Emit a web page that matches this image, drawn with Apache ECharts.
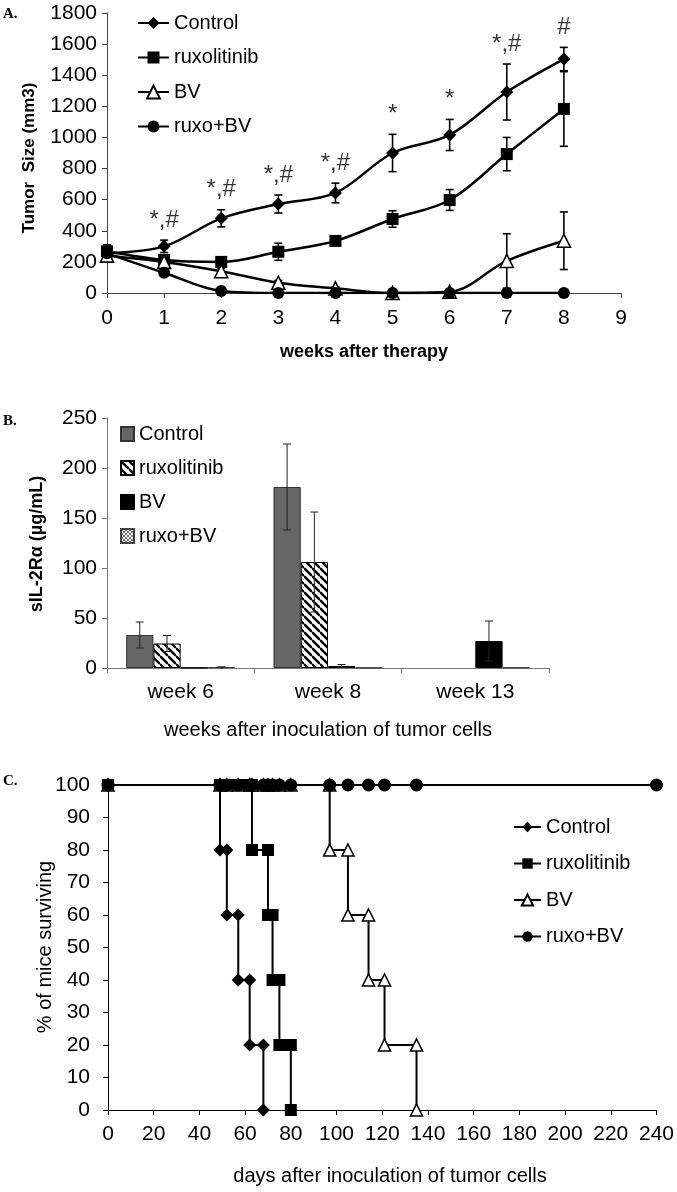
<!DOCTYPE html>
<html><head><meta charset="utf-8">
<script src="https://cdn.jsdelivr.net/npm/echarts@6/dist/echarts.min.js"></script>
<style>html,body{margin:0;padding:0;background:#fff}#c{width:677px;height:1192px}</style>
</head><body><div id="c"></div>
<script>
// ---------- Panel A: tumor size ----------
const weeksA = [0,1,2,3,4,5,6,7,8];
const tumorControl    = [255,300,480,572,643,900,1016,1292,1504];
const tumorControlErr = [55,40,55,58,63,120,100,180,75];
const tumorRuxo       = [268,212,200,265,335,476,598,893,1183];
const tumorRuxoErr    = [30,25,20,55,15,53,67,107,240];
const tumorBV         = [240,200,140,66,30,0,8,206,336];
const tumorBVErr      = [20,20,20,15,10,5,15,175,185];
const tumorRuxoBV     = [255,130,13,0,0,0,0,0,0];
const tumorRuxoBVErr  = [20,15,5,0,0,0,0,0,0];
const sigWeeks  = [1,2,3,4,5,6,7,8];
const sigLabels = ['*,#','*,#','*,#','*,#','*','*','*,#','#'];

// ---------- Panel B: sIL-2Ra ----------
const weeksB = ['week 6','week 8','week 13'];
const il2Control    = [33,181,null];
const il2ControlErr = [13,43,null];
const il2Ruxo       = [24.5,106,null];
const il2RuxoErr    = [8,50,null];
const il2BV         = [0.3,2,27];
const il2BVErr      = [0,1.5,20];
const il2RuxoBV     = [0.8,0.4,0.5];
const il2RuxoBVErr  = [0.4,0,0];

// ---------- Panel C: survival ----------
const survControl = [[0,100],[49,100],[49,80],[52,80],[52,60],[57,60],[57,40],[62,40],[62,20],[68,20],[68,0]];
const survRuxo = [[0,100],[49,100],[52,100],[57,100],[62,100],[63,100],[63,80],[70,80],[70,60],[72,60],[72,40],[75,40],[75,20],[80,20],[80,0]];
const survBV = [[0,100],[49,100],[52,100],[57,100],[62,100],[63,100],[68,100],[70,100],[72,100],[75,100],[80,100],[97,100],[97,80],[105,80],[105,60],[114,60],[114,40],[121,40],[121,20],[135,20],[135,0]];
const survRuxoBV = [[0,100],[49,100],[52,100],[57,100],[62,100],[63,100],[68,100],[70,100],[72,100],[75,100],[80,100],[97,100],[105,100],[114,100],[121,100],[135,100],[240,100]];

const FONT = 'Liberation Sans, Arial, sans-serif';

function stripePattern(){
  const s = 8, c = document.createElement('canvas'); c.width = s; c.height = s;
  const g = c.getContext('2d');
  g.fillStyle = '#fff'; g.fillRect(0,0,s,s);
  g.strokeStyle = '#000'; g.lineWidth = 2.4; g.beginPath();
  for (let k=-1;k<=1;k++){ g.moveTo(0,k*s); g.lineTo(s,s+k*s); }
  g.stroke();
  return {image:c, repeat:'repeat'};
}
function checkerPattern(){
  const s = 4, c = document.createElement('canvas'); c.width = s; c.height = s;
  const g = c.getContext('2d');
  g.fillStyle = '#fff'; g.fillRect(0,0,s,s);
  g.fillStyle = '#777'; g.fillRect(0,0,2,2); g.fillRect(2,2,2,2);
  return {image:c, repeat:'repeat'};
}

function errDataA(v,e){ return weeksA.map((w,i)=>[w, v[i]-e[i], v[i]+e[i], e[i]]); }
function errSeriesA(name,v,e){
  return {type:'custom', name:'A:'+name+'err', xAxisIndex:0, yAxisIndex:0, z:1, silent:true,
    data: errDataA(v,e),
    renderItem:(p,api)=>{
      if (api.value(3) <= 0) return null;
      const x = api.value(0);
      const lo = Math.max(0, api.value(1)), hi = api.value(2);
      const a = api.coord([x,lo]), b = api.coord([x,hi]);
      const st = {stroke:'#000', lineWidth:1.6};
      const c = 4;
      return {type:'group', children:[
        {type:'line', shape:{x1:a[0],y1:a[1],x2:b[0],y2:b[1]}, style:st},
        {type:'line', shape:{x1:a[0]-c,y1:a[1],x2:a[0]+c,y2:a[1]}, style:st},
        {type:'line', shape:{x1:b[0]-c,y1:b[1],x2:b[0]+c,y2:b[1]}, style:st}
      ]};
    }};
}
function lineA(name,v,symbol,size,fill){
  return {type:'line', name:'A:'+name, xAxisIndex:0, yAxisIndex:0, z:3,
    data: weeksA.map((w,i)=>[w,v[i]]), smooth:0.35, symbol, symbolSize:size, showAllSymbol:true,
    lineStyle:{color:'#000', width:2.5}, itemStyle:{color:fill, borderColor:'#000', borderWidth: fill==='#fff'?1.6:0}};
}

const GAP = 0.26;
function errSeriesB(k,v,e){
  return {type:'custom', name:'B:err'+k, xAxisIndex:1, yAxisIndex:1, z:5, silent:true,
    data: weeksB.map((w,i)=>[i, v[i]==null?NaN:v[i]-e[i], v[i]==null?NaN:v[i]+e[i], e[i]==null?0:e[i]]),
    renderItem:(p,api)=>{
      if (!(api.value(3) > 0)) return null;
      const bw = api.size([1,0])[0];
      const w = bw*(1-GAP)/4;
      const off = (k-1.5)*w;
      const a = api.coord([api.value(0), Math.max(0,api.value(1))]);
      const b = api.coord([api.value(0), api.value(2)]);
      const x = a[0]+off;
      const st = {stroke:'#222', lineWidth:1};
      const c = 4;
      return {type:'group', children:[
        {type:'line', shape:{x1:x,y1:a[1],x2:x,y2:b[1]}, style:st},
        {type:'line', shape:{x1:x-c,y1:a[1],x2:x+c,y2:a[1]}, style:st},
        {type:'line', shape:{x1:x-c,y1:b[1],x2:x+c,y2:b[1]}, style:st}
      ]};
    }};
}
function barB(name,v,color,border){
  return {type:'bar', name:'B:'+name, xAxisIndex:1, yAxisIndex:1, z:2, data:v,
    barCategoryGap:(GAP*100)+'%', barGap:'0%',
    itemStyle:{color, borderColor:border, borderWidth:1}};
}
function lineC(name,d,symbol,size,fill){
  return {type:'line', name:'C:'+name, xAxisIndex:2, yAxisIndex:2, data:d, symbol, symbolSize:size,
    showAllSymbol:true, lineStyle:{color:'#000', width:2},
    itemStyle:{color:fill, borderColor:'#000', borderWidth: fill==='#fff'?1.6:0}};
}

const TICKFS = 21;
const axisCommon = (color, margin)=>({
  axisLine:{show:true, lineStyle:{color, width:1}},
  axisTick:{show:true, length:5, lineStyle:{color, width:1}},
  splitLine:{show:false},
  axisLabel:{color:'#000', fontSize:TICKFS, fontFamily:FONT, margin, formatter:v=>String(v)}
});

function leg(name, left, cy, iw, ih, icon){
  const o = {data:[name], left, top: cy-10, orient:'vertical', padding:0, itemGap:0,
    itemWidth:iw, itemHeight:ih, selectedMode:false, formatter:n=>n.slice(2),
    textStyle:{fontSize:20, fontFamily:FONT, color:'#000'}};
  if (icon) o.icon = icon;
  return o;
}

const stripe = stripePattern(), checker = checkerPattern();

const option = {
  animation:false,
  backgroundColor:'#fff',
  grid:[
    {left:107, top:13, width:514, height:280},
    {left:107, top:418, width:442, height:250},
    {left:108, top:785, width:550, height:325}
  ],
  xAxis:[
    Object.assign({gridIndex:0, type:'value', min:0, max:9, interval:1}, axisCommon('#444',15)),
    Object.assign({gridIndex:1, type:'category', data:weeksB}, axisCommon('#777',14)),
    Object.assign({gridIndex:2, type:'value', min:0, max:240, interval:20}, axisCommon('#000',14))
  ],
  yAxis:[
    Object.assign({gridIndex:0, type:'value', min:0, max:1800, interval:200}, axisCommon('#444',10)),
    Object.assign({gridIndex:1, type:'value', min:0, max:250, interval:50}, axisCommon('#777',10)),
    Object.assign({gridIndex:2, type:'value', min:0, max:100, interval:10}, axisCommon('#000',18))
  ],
  legend:[
    leg('A:Control',137,23,31,15), leg('A:ruxolitinib',137,57.5,31,15),
    leg('A:BV',137,92,31,16), leg('A:ruxo+BV',137,126.5,31,15),
    leg('B:Control',120,434,13,14,'rect'), leg('B:ruxolitinib',120,468,13,14,'rect'),
    leg('B:BV',120,502,13,14,'rect'), leg('B:ruxo+BV',120,536,13,14,'rect'),
    leg('C:Control',513,827,27,13), leg('C:ruxolitinib',513,863.5,27,13),
    leg('C:BV',513,900,27,14), leg('C:ruxo+BV',513,936.5,27,13)
  ],
  graphic:[
    {type:'text', x:3, y:7, style:{text:'A.', font:'bold 15px "Liberation Serif", serif', fill:'#000'}},
    {type:'text', x:3, y:414, style:{text:'B.', font:'bold 15px "Liberation Serif", serif', fill:'#000'}},
    {type:'text', x:3, y:774, style:{text:'C.', font:'bold 15px "Liberation Serif", serif', fill:'#000'}},
    {type:'text', x:29, y:158, rotation:Math.PI/2, style:{text:'Tumor  Size (mm3)', font:'bold 17px '+FONT, fill:'#000', align:'center', verticalAlign:'middle'}},
    {type:'text', x:364, y:352, style:{text:'weeks after therapy', font:'bold 18px '+FONT, fill:'#000', align:'center', verticalAlign:'middle'}},
    {type:'text', x:37, y:544, rotation:Math.PI/2, style:{text:'sIL-2R\u03b1 (\u00b5g/mL)', font:'bold 18px '+FONT, fill:'#000', align:'center', verticalAlign:'middle'}},
    {type:'text', x:328, y:730, style:{text:'weeks after inoculation of tumor cells', font:'20px '+FONT, fill:'#000', align:'center', verticalAlign:'middle'}},
    {type:'text', x:45, y:947, rotation:Math.PI/2, style:{text:'% of mice surviving', font:'20px '+FONT, fill:'#000', align:'center', verticalAlign:'middle'}},
    {type:'text', x:390, y:1176, style:{text:'days after inoculation of tumor cells', font:'20px '+FONT, fill:'#000', align:'center', verticalAlign:'middle'}}
  ],
  series:[
    errSeriesA('Control',tumorControl,tumorControlErr),
    errSeriesA('ruxolitinib',tumorRuxo,tumorRuxoErr),
    errSeriesA('BV',tumorBV,tumorBVErr),
    errSeriesA('ruxo+BV',tumorRuxoBV,tumorRuxoBVErr),
    lineA('Control',tumorControl,'diamond',13,'#000'),
    lineA('ruxolitinib',tumorRuxo,'rect',12,'#000'),
    lineA('BV',tumorBV,'triangle',13,'#fff'),
    lineA('ruxo+BV',tumorRuxoBV,'circle',12,'#000'),
    {type:'scatter', name:'A:sig', xAxisIndex:0, yAxisIndex:0, symbolSize:0, silent:true, z:4,
      data: sigWeeks.map((w,i)=>[w, tumorControl[w]+tumorControlErr[w], sigLabels[i]]),
      label:{show:true, position:'top', distance:8, formatter:p=>p.data[2], fontSize:24, fontFamily:FONT, color:'#000'}},
    barB('Control',il2Control,'#666','#333'),
    barB('ruxolitinib',il2Ruxo,stripe,'#000'),
    barB('BV',il2BV,'#000','#000'),
    barB('ruxo+BV',il2RuxoBV,checker,'#444'),
    errSeriesB(0,il2Control,il2ControlErr),
    errSeriesB(1,il2Ruxo,il2RuxoErr),
    errSeriesB(2,il2BV,il2BVErr),
    errSeriesB(3,il2RuxoBV,il2RuxoBVErr),
    lineC('Control',survControl,'diamond',13,'#000'),
    lineC('ruxolitinib',survRuxo,'rect',12,'#000'),
    lineC('BV',survBV,'triangle',12,'#fff'),
    lineC('ruxo+BV',survRuxoBV,'circle',13,'#000')
  ]
};
const chart = echarts.init(document.getElementById('c'), null, {renderer:'canvas'});
chart.setOption(option);
</script></body></html>
